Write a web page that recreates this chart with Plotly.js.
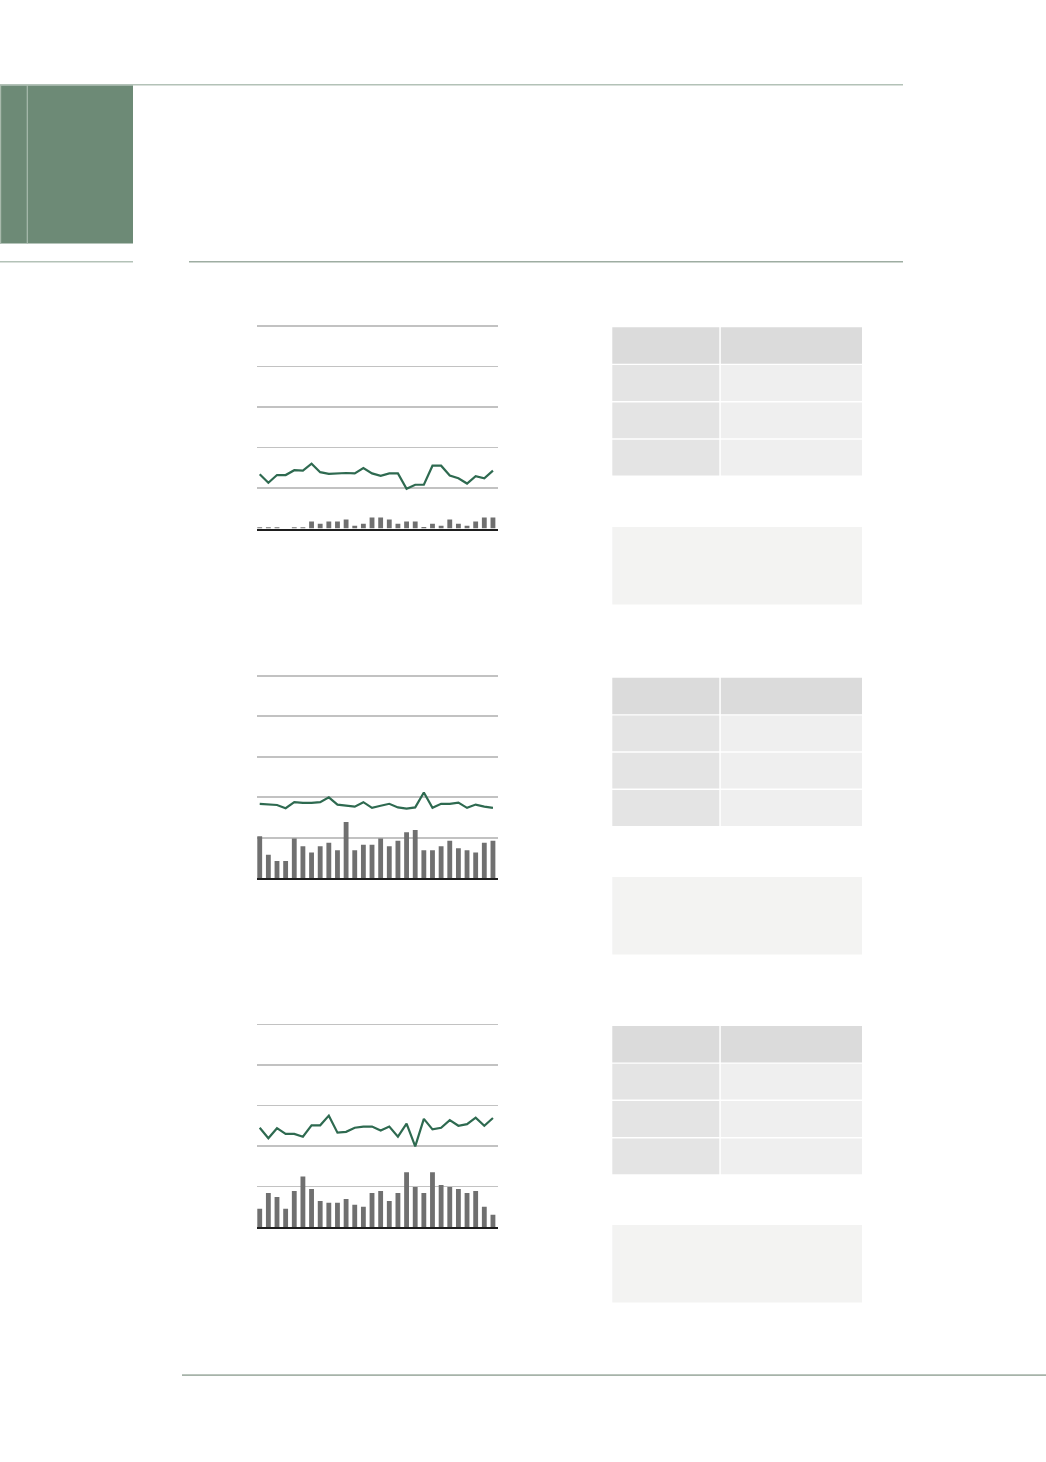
<!DOCTYPE html>
<html>
<head>
<meta charset="utf-8">
<script src="https://cdn.plot.ly/plotly-3.0.1.min.js"></script>
<style>
  html, body { margin: 0; padding: 0; background: #ffffff; }
  #chart { width: 1046px; height: 1462px; }
</style>
</head>
<body>
<div id="chart"></div>
<script>
// ---- data ----
const periods = [1,2,3,4,5,6,7,8,9,10,11,12,13,14,15,16,17,18,19,20,21,22,23,24,25,26,27,28];

const panel1Bars = [0.03,0.03,0.03,0.00,0.03,0.03,0.17,0.12,0.17,0.17,0.22,0.07,0.12,0.27,0.27,0.22,0.12,0.17,0.17,0.04,0.12,0.07,0.22,0.12,0.07,0.17,0.27,0.27];
const panel1Line = [1.34,1.13,1.32,1.32,1.44,1.43,1.60,1.39,1.35,1.36,1.37,1.36,1.49,1.36,1.30,1.36,1.36,0.98,1.08,1.08,1.55,1.55,1.31,1.24,1.11,1.29,1.24,1.43];

const panel2Bars = [1.04,0.58,0.43,0.43,0.98,0.79,0.64,0.79,0.88,0.69,1.39,0.69,0.83,0.83,0.98,0.79,0.93,1.14,1.19,0.69,0.69,0.79,0.93,0.74,0.69,0.64,0.88,0.93];
const panel2Line = [1.84,1.83,1.81,1.73,1.88,1.86,1.86,1.88,2.00,1.82,1.79,1.77,1.88,1.74,1.79,1.84,1.75,1.72,1.75,2.12,1.74,1.84,1.84,1.87,1.74,1.82,1.77,1.74];

const panel3Bars = [0.45,0.84,0.74,0.45,0.89,1.25,0.94,0.64,0.60,0.60,0.69,0.55,0.50,0.84,0.89,0.64,0.84,1.35,0.99,0.84,1.35,1.04,0.99,0.94,0.84,0.89,0.50,0.30];
const panel3Line = [2.45,2.19,2.44,2.30,2.30,2.23,2.51,2.51,2.75,2.33,2.35,2.45,2.48,2.48,2.38,2.48,2.23,2.55,1.99,2.67,2.41,2.45,2.64,2.50,2.54,2.70,2.50,2.69];

const yTicks = [0,1,2,3,4,5];

// ---- layout helpers ----
const W = 1046, H = 1462;
const px = x => x / W;
const py = y => 1 - y / H;
const xIdx = periods.map((p, i) => i);

const barColor = '#707070';
const lineColor = '#2e6a50';
const gridColor = '#c2c2c2';

const panels = [
  { bars: panel1Bars, line: panel1Line, base: 528.5 },
  { bars: panel2Bars, line: panel2Line, base: 878.3 },
  { bars: panel3Bars, line: panel3Line, base: 1227.0 }
];
const unitPx = 40.5;
const yMax = 5.1;

const traces = [];
const layout = {
  width: W, height: H,
  margin: { l: 0, r: 0, t: 0, b: 0 },
  paper_bgcolor: '#ffffff',
  plot_bgcolor: 'rgba(0,0,0,0)',
  showlegend: false,
  hovermode: false,
  bargap: 0.4,
  shapes: []
};

panels.forEach((p, k) => {
  const n = k === 0 ? '' : String(k + 1);
  traces.push({
    type: 'bar', x: xIdx, y: p.bars, width: 0.56,
    marker: { color: barColor, line: { width: 0 } },
    xaxis: 'x' + n, yaxis: 'y' + n, hoverinfo: 'skip'
  });
  traces.push({
    type: 'scatter', mode: 'lines', x: xIdx, y: p.line,
    line: { color: lineColor, width: 2.2 },
    xaxis: 'x' + n, yaxis: 'y' + n, hoverinfo: 'skip'
  });
  const top = p.base - yMax * unitPx;
  layout['xaxis' + n] = {
    domain: [px(256.7), px(497.7)],
    range: [-0.35, 27.55],
    showgrid: false, zeroline: false,
    showticklabels: false, ticks: '',
    showline: true, linecolor: '#1e1e1e', linewidth: 2,
    anchor: 'y' + n, fixedrange: true
  };
  layout['yaxis' + n] = {
    domain: [py(p.base), py(top)],
    range: [0, yMax],
    tickvals: yTicks,
    showgrid: true, gridcolor: gridColor, gridwidth: 1.6,
    zeroline: false, showline: false,
    showticklabels: false, ticks: '',
    anchor: 'x' + n, fixedrange: true
  };
});

function rect(x0, y0, x1, y1, color) {
  layout.shapes.push({
    type: 'rect', xref: 'paper', yref: 'paper',
    x0: px(x0), x1: px(x1), y0: py(y1), y1: py(y0),
    fillcolor: color, line: { width: 0 }, layer: 'below'
  });
}
function hline(x0, x1, y, color, w) {
  layout.shapes.push({
    type: 'line', xref: 'paper', yref: 'paper',
    x0: px(x0), x1: px(x1), y0: py(y), y1: py(y),
    line: { color: color, width: w }, layer: 'below'
  });
}
function vline(x, y0, y1, color, w) {
  layout.shapes.push({
    type: 'line', xref: 'paper', yref: 'paper',
    x0: px(x), x1: px(x), y0: py(y0), y1: py(y1),
    line: { color: color, width: w }, layer: 'below'
  });
}

// header block
rect(0, 85.3, 133, 243.5, '#6d8a76');
vline(0.6, 85.3, 243.5, '#a7b9ab', 1.2);
vline(27.3, 85.3, 243.5, '#a9bcae', 1.2);
hline(0, 903, 84.7, '#b3c2b7', 1.6);
hline(0, 133, 261.8, '#b3c2b7', 1.6);
hline(189, 903, 261.8, '#9eada2', 1.6);
hline(182, 1046, 1375.2, '#a6b3a9', 1.8);

// right side table blocks
const tableTops = [327.3, 677.7, 1026.0];
const noteTops = [527.0, 877.0, 1225.0];
tableTops.forEach((t, i) => {
  rect(612.3, t, 719.3, t + 36.5, '#dbdbdb');
  rect(720.8, t, 862, t + 36.5, '#dbdbdb');
  for (let r = 0; r < 3; r++) {
    const ry = t + 37.8 + r * 37.3;
    rect(612.3, ry, 719.3, ry + 35.8, '#e4e4e4');
    rect(720.8, ry, 862, ry + 35.8, '#efefef');
  }
  rect(612.3, noteTops[i], 862, noteTops[i] + 77.6, '#f3f3f2');
});

Plotly.newPlot('chart', traces, layout, { staticPlot: true, displayModeBar: false });
</script>
</body>
</html>
